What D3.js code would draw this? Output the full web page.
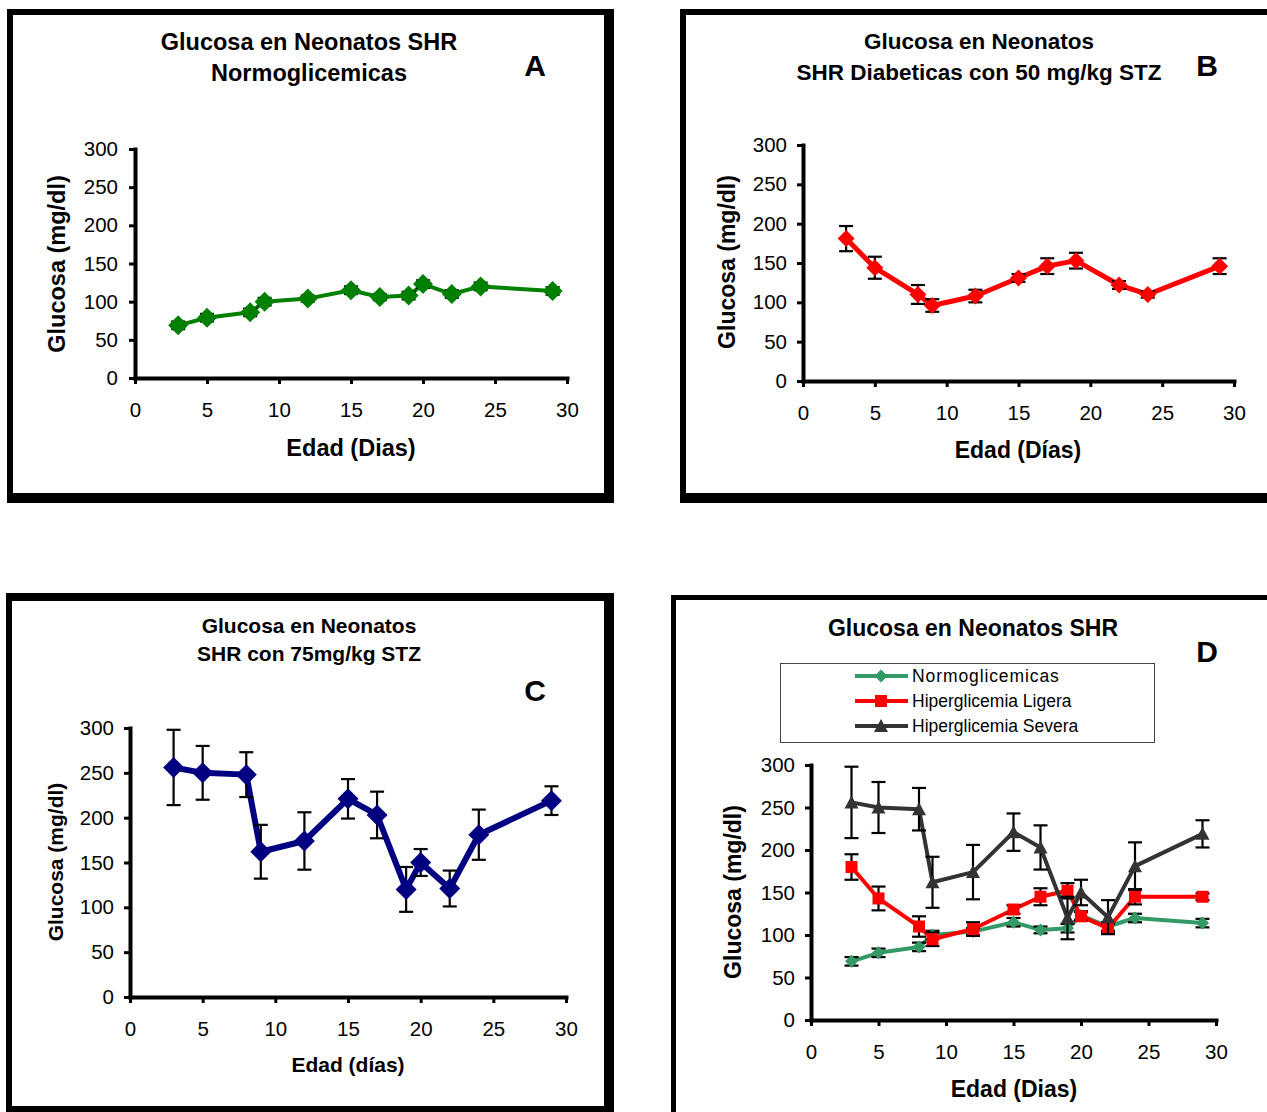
<!DOCTYPE html>
<html>
<head>
<meta charset="utf-8">
<script src="https://cdn.jsdelivr.net/npm/d3@7"></script>
<style>
  html, body { margin: 0; padding: 0; background: #fff; }
  svg { display: block; font-family: Arial, "Liberation Sans", Helvetica, sans-serif; }
</style>
</head>
<body>
<svg id="chart" width="1267" height="1112"></svg>
<script>
// Glucose in SHR neonates: age (days) vs glucose (mg/dl)
const days = [3, 5, 8, 9, 12, 15, 17, 19, 20, 22, 24, 29];
const daysB = [3, 5, 8, 9, 12, 15, 17, 19, 22, 24, 29];

const normo = [69, 79, 86, 100, 104, 115, 106, 108, 123, 110, 120, 114];
const normoErr = [5, 5, 5, 5, 4, 5, 4, 5, 5, 5, 5, 5];

const diab50 = [181, 144, 110, 96, 108, 131, 146, 153, 122, 110, 146];
const diab50Err = [16, 14, 12, 8, 8, 5, 10, 10, 5, 4, 10];

const stz75 = [256, 250, 248, 162, 174, 221, 203, 120, 150, 121, 181, 219];
const stz75Err = [42, 30, 25, 30, 32, 22, 26, 25, 15, 20, 28, 16];

const ligera = [180, 143, 110, 95, 107, 130, 145, 152, 122, 108, 145, 145];
const ligeraErr = [15, 14, 12, 8, 8, 5, 10, 9, 5, 5, 9, 4];

const xTicks = [0, 5, 10, 15, 20, 25, 30];
const yTicks = [0, 50, 100, 150, 200, 250, 300];

const legendLabels = ["Normoglicemicas", "Hiperglicemia Ligera", "Hiperglicemia Severa"];

const svg = d3.select("#chart");

// marker shapes
function diamond(r) { return `M0,${-r}L${r},0L0,${r}L${-r},0Z`; }
function square(s) { const h = s / 2; return `M${-h},${-h}H${h}V${h}H${-h}Z`; }
function triangle(s) { const h = s / 2; return `M0,${-h - 1}L${h + 1},${h}L${-h - 1},${h}Z`; }

// panel frames: thick black border around white area
function frame(outer, inner) {
  svg.append("rect").attr("x", outer[0]).attr("y", outer[1])
    .attr("width", outer[2] - outer[0]).attr("height", outer[3] - outer[1]).attr("fill", "#000");
  svg.append("rect").attr("x", inner[0]).attr("y", inner[1])
    .attr("width", inner[2] - inner[0]).attr("height", inner[3] - inner[1]).attr("fill", "#fff");
}
frame([7, 9, 614, 503], [13, 15, 604, 493]);
frame([680, 9, 1300, 503], [686, 15, 1300, 493]);
frame([6, 593, 614, 1130], [12, 601, 604, 1106]);
frame([671, 595, 1300, 1130], [676, 600, 1300, 1130]);

function text(x, y, str, size, weight, anchor, extra) {
  const t = svg.append("text").attr("x", x).attr("y", y)
    .attr("font-size", size).attr("font-weight", weight || "normal")
    .attr("text-anchor", anchor || "middle").attr("fill", "#000").text(str);
  if (extra) extra(t);
  return t;
}

function panel(cfg) {
  const x = d3.scaleLinear().domain([0, 30]).range([cfg.x0, cfg.x1]);
  const y = d3.scaleLinear().domain([0, 300]).range([cfg.y0, cfg.y1]);
  const g = svg.append("g");

  // axes
  const ax = g.append("g").attr("transform", `translate(0,${cfg.y0})`)
    .call(d3.axisBottom(x).tickValues(xTicks).tickSize(6).tickSizeOuter(0).tickPadding(cfg.xPad));
  const ay = g.append("g").attr("transform", `translate(${cfg.x0},0)`)
    .call(d3.axisLeft(y).tickValues(yTicks).tickSize(6).tickSizeOuter(0).tickPadding(cfg.yPad));
  [ax, ay].forEach(a => {
    a.select(".domain").attr("stroke", "#000").attr("stroke-width", 4).attr("stroke-linecap", "square");
    a.selectAll(".tick line").attr("stroke", "#000").attr("stroke-width", 3);
    a.selectAll(".tick text").attr("font-size", cfg.tickSize).attr("fill", "#000")
      .attr("font-family", "Arial, 'Liberation Sans', sans-serif");
  });

  cfg.series.forEach(s => {
    const pts = s.days.map((d, i) => ({ d, v: s.values[i], e: s.err ? s.err[i] : 0 }));
    const line = d3.line().x(p => x(p.d)).y(p => y(p.v));
    g.append("path").datum(pts).attr("d", line).attr("fill", "none")
      .attr("stroke", s.color).attr("stroke-width", s.lw).attr("stroke-linejoin", "round");
    if (s.err) {
      const eb = g.append("g").attr("stroke", "#000").attr("stroke-width", 2.2);
      pts.forEach(p => {
        const cx = x(p.d), top = y(p.v + p.e), bot = y(p.v - p.e);
        eb.append("line").attr("x1", cx).attr("x2", cx).attr("y1", top).attr("y2", bot);
        eb.append("line").attr("x1", cx - 7).attr("x2", cx + 7).attr("y1", top).attr("y2", top);
        eb.append("line").attr("x1", cx - 7).attr("x2", cx + 7).attr("y1", bot).attr("y2", bot);
      });
    }
    g.append("g").selectAll("path").data(pts).join("path")
      .attr("transform", p => `translate(${x(p.d)},${y(p.v)})`)
      .attr("d", s.marker).attr("fill", s.color);
  });

  // titles and labels
  cfg.title.forEach((t, i) => text(cfg.titleX, cfg.titleY[i], t, cfg.titleSize, "bold"));
  text(cfg.letterX, cfg.letterY, cfg.letter, 30, "bold");
  text(0, 0, "Glucosa (mg/dl)", cfg.labelSize, "bold", "middle",
    t => t.attr("transform", `translate(${cfg.ylabX},${cfg.ylabY}) rotate(-90)`).attr("x", 0).attr("y", 0));
  text(cfg.xlabX, cfg.xlabY, cfg.xlab, cfg.labelSize, "bold");
  return { x, y };
}

// A
panel({
  x0: 135, x1: 567, y0: 378, y1: 149, xPad: 18, yPad: 11, tickSize: 20.5,
  title: ["Glucosa en Neonatos SHR", "Normoglicemicas"], titleX: 309, titleY: [50, 81], titleSize: 23.5,
  letter: "A", letterX: 535, letterY: 76,
  ylabX: 65, ylabY: 264, xlabX: 351, xlabY: 456, xlab: "Edad (Dias)", labelSize: 23.5,
  series: [{ days: days, values: normo, err: normoErr, color: "#008000", lw: 4, marker: diamond(10) }]
});

// B
panel({
  x0: 803, x1: 1234, y0: 381, y1: 145, xPad: 18, yPad: 10, tickSize: 20.5,
  title: ["Glucosa en Neonatos", "SHR Diabeticas con 50 mg/kg STZ"], titleX: 979, titleY: [49, 80], titleSize: 22.5,
  letter: "B", letterX: 1207, letterY: 76,
  ylabX: 735, ylabY: 262, xlabX: 1018, xlabY: 458, xlab: "Edad (Días)", labelSize: 23,
  series: [{ days: daysB, values: diab50, err: diab50Err, color: "#ff0000", lw: 5, marker: diamond(8.5) }]
});

// C
panel({
  x0: 130, x1: 566, y0: 997, y1: 728, xPad: 18, yPad: 10, tickSize: 20.5,
  title: ["Glucosa en Neonatos", "SHR con 75mg/kg STZ"], titleX: 309, titleY: [633, 661], titleSize: 21,
  letter: "C", letterX: 535, letterY: 701,
  ylabX: 63, ylabY: 862, xlabX: 348, xlabY: 1072, xlab: "Edad (días)", labelSize: 21,
  series: [{ days: days, values: stz75, err: stz75Err, color: "#000080", lw: 6, marker: diamond(10.5) }]
});

// D
const dSeries = [
  { days: days, values: normo, err: normoErr, color: "#339966", lw: 4, marker: diamond(6.5) },
  { days: days, values: ligera, err: ligeraErr, color: "#ff0000", lw: 4, marker: square(12) },
  { days: days, values: stz75, err: stz75Err, color: "#333333", lw: 4, marker: triangle(12) }
];
panel({
  x0: 811, x1: 1216, y0: 1020, y1: 765, xPad: 18, yPad: 10, tickSize: 20.5,
  title: ["Glucosa en Neonatos SHR"], titleX: 973, titleY: [636], titleSize: 23,
  letter: "D", letterX: 1207, letterY: 662,
  ylabX: 741, ylabY: 892, xlabX: 1014, xlabY: 1097, xlab: "Edad (Dias)", labelSize: 23,
  series: dSeries
});

// legend for D
const lg = svg.append("g");
lg.append("rect").attr("x", 780.5).attr("y", 663.5).attr("width", 374).attr("height", 79)
  .attr("fill", "#fff").attr("stroke", "#444").attr("stroke-width", 1);
dSeries.forEach((s, i) => {
  const cy = 676 + i * 25;
  lg.append("line").attr("x1", 855).attr("x2", 908).attr("y1", cy).attr("y2", cy)
    .attr("stroke", s.color).attr("stroke-width", 4);
  lg.append("path").attr("transform", `translate(881,${cy})`).attr("d", s.marker).attr("fill", s.color);
  lg.append("text").attr("x", 912).attr("y", cy + 6).attr("font-size", 17.5)
    .attr("letter-spacing", i === 0 ? 0.9 : 0).attr("fill", "#000").text(legendLabels[i]);
});
</script>
</body>
</html>
